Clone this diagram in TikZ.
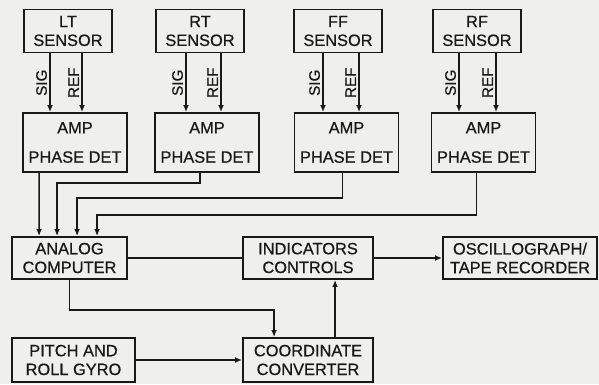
\documentclass[tikz,border=0pt]{standalone}
\usepackage{fontspec}
\setmainfont{Liberation Sans}[FakeBold=0.6]
\usetikzlibrary{arrows.meta,calc}
\definecolor{paper}{RGB}{239,239,236}
\definecolor{ink}{RGB}{25,25,25}

\begin{document}
\begin{tikzpicture}[x=0.03cm, y=-0.03cm,
  box/.style={draw=ink, line width=1.6pt, align=center, inner sep=0pt,
    font=\fontsize{14}{16}\selectfont, text=ink},
  sensbox/.style={box, minimum width=2.64cm, minimum height=1.29cm},
  ampbox/.style={box, minimum width=3.12cm, minimum height=1.77cm},
  wire/.style={draw=ink, line width=1.2pt},
  feed/.style={wire, -{Latex[length=6pt,width=5pt]}},
  lbl/.style={rotate=90, anchor=south, inner sep=2pt, text=ink,
    font=\fontsize{13}{15}\selectfont}]
  % papier
  \fill[paper] (0,0) rectangle (599,384);
  \useasboundingbox (0,0) rectangle (599,384);

  % sensoren
  \node[sensbox] (ltsen) at (68,31) {LT\\SENSOR};
  \node[sensbox] (rtsen) at (200,31) {RT\\SENSOR};
  \node[sensbox] (ffsen) at (338,31) {FF\\SENSOR};
  \node[sensbox] (rfsen) at (477,31) {RF\\SENSOR};

  % versterker / fasedetector
  \node[ampbox] (ltamp) at (75,142.5) {AMP\\[9pt]PHASE DET};
  \node[ampbox] (rtamp) at (207,142.5) {AMP\\[9pt]PHASE DET};
  \node[ampbox] (ffamp) at (346.5,142.5) {AMP\\[9pt]PHASE DET};
  \node[ampbox] (rfamp) at (483.5,142.5) {AMP\\[9pt]PHASE DET};

  % SIG en REF
  \foreach \s/\a/\dsig/\dref in {ltsen/ltamp/-18/14, rtsen/rtamp/-14/21,
      ffsen/ffamp/-15/21, rfsen/rfamp/-18/19} {
    \coordinate (sg) at ($(\s.south)+(\dsig,0)$);
    \coordinate (rf) at ($(\s.south)+(\dref,0)$);
    \draw[feed] (sg) -- (sg |- \a.north) node[lbl, midway] {SIG};
    \draw[feed] (rf) -- (rf |- \a.north) node[lbl, midway] {REF};
  }

  % middelste rij
  \node[box, minimum width=3.45cm, minimum height=1.26cm] (analog) at (69.5,258)
    {ANALOG\\COMPUTER};
  \node[box, minimum width=3.9cm, minimum height=1.26cm] (indic) at (308,258)
    {INDICATORS\\CONTROLS};
  \node[box, minimum width=4.62cm, minimum height=1.26cm] (osc) at (520,258)
    {OSCILLOGRAPH/\\TAPE RECORDER};

  % onderste rij
  \node[box, minimum width=3.69cm, minimum height=1.32cm] (gyro) at (73.5,360)
    {PITCH AND\\ROLL GYRO};
  \node[box, minimum width=3.9cm, minimum height=1.32cm] (coord) at (308,360)
    {COORDINATE\\CONVERTER};

  % naar de analoge computer
  \draw[feed] ($(ltamp.south west)+(17,0)$) -- ($(analog.north west)+(28,0)$);
  \draw[feed] ($(rtamp.south west)+(46,0)$) -- ++(0,10)
    -| ($(analog.north west)+(46,0)$);
  \draw[feed] ($(ffamp.south west)+(49,0)$) -- ++(0,25)
    -| ($(analog.north west)+(66,0)$);
  \draw[feed] ($(rfamp.south west)+(46,0)$) -- ++(0,42)
    -| ($(analog.north west)+(86,0)$);

  % overige verbindingen
  \draw[wire] (analog.east) -- (indic.west);
  \draw[feed] (indic.east) -- (osc.west);
  \draw[feed] (analog.south) -- ++(0,30) -| ($(coord.north west)+(32,0)$);
  \draw[feed] (gyro.east) -- (gyro.east -| coord.west);
  \draw[feed] ($(coord.north west)+(93,0)$) -- ($(indic.south west)+(93,0)$);
\end{tikzpicture}
\end{document}
